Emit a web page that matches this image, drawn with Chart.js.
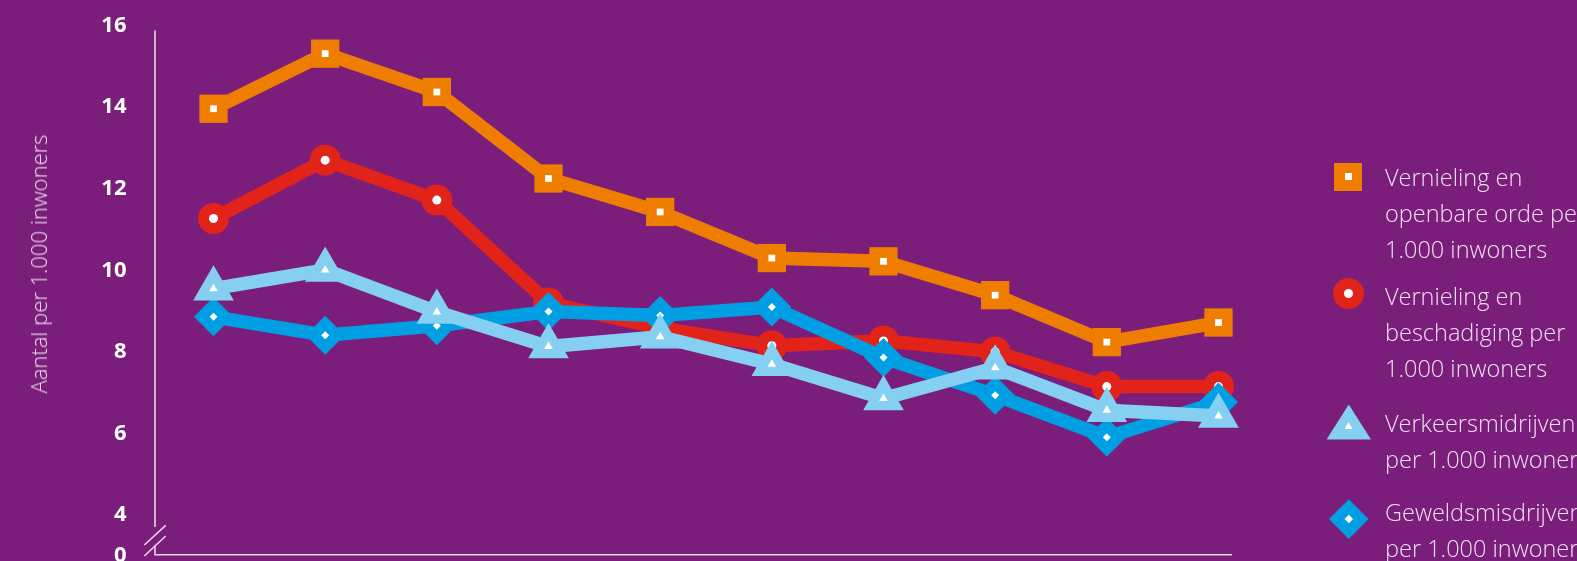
<!DOCTYPE html>
<html>
<head>
<meta charset="utf-8">
<script src="https://cdn.jsdelivr.net/npm/chart.js@4.4.0/dist/chart.umd.min.js"></script>
<style>
    html, body { margin: 0; padding: 0; background: #7b1d7a; overflow: hidden; }
    #wrap { position: relative; width: 1577px; height: 561px; overflow: hidden; }
    #chart { position: absolute; left: 0; top: 0; }
    .ytitle {
        position: absolute; left: 38px; top: 264px;
        transform: translate(-50%, -50%) rotate(-90deg);
        white-space: nowrap; font: 300 22px "Open Sans"; color: #eadbee;
    }
    .legend-text {
        position: absolute; left: 1385px; white-space: pre;
        font: 300 23.5px/36px "Open Sans"; color: #eee2f1;
    }
    .mk { position: absolute; }
    .dot { position: absolute; background: #fff; }
</style>
</head>
<body>
<div id="wrap">
    <canvas id="chart" width="1577" height="561"></canvas>
    <div class="ytitle">Aantal per 1.000 inwoners</div>
    <div id="legend"></div>
</div>
<script>
// x positions (no labels visible on the axis)
const periods = [1, 2, 3, 4, 5, 6, 7, 8, 9, 10];

const seriesNames = [
    'Vernieling en\nopenbare orde per\n1.000 inwoners',
    'Vernieling en\nbeschadiging per\n1.000 inwoners',
    'Verkeersmidrijven\nper 1.000 inwoners',
    'Geweldsmisdrijven\nper 1.000 inwoners'
];

const openbareOrde = [13.96, 15.31, 14.37, 12.25, 11.43, 10.30, 10.22, 9.39, 8.24, 8.72];
const beschadiging = [11.27, 12.70, 11.72, 9.20, 8.58, 8.15, 8.27, 8.00, 7.15, 7.15];
const verkeer      = [9.55, 10.01, 8.98, 8.13, 8.37, 7.70, 6.86, 7.61, 6.57, 6.43];
const geweld       = [8.86, 8.41, 8.64, 8.99, 8.89, 9.10, 7.86, 6.94, 5.91, 6.77];

// broken axis: the bottom value 3 is shown as 0
const yTickValues = [3, 4, 6, 8, 10, 12, 14, 16];
const yTickLabels = ['0', '4', '6', '8', '10', '12', '14', '16'];

const colors = ['#ef7d00', '#e2231a', '#85cff3', '#009fe3'];

const toPoints = arr => arr.map((v, i) => ({x: periods[i], y: v}));

function mainSet(data, color, style, radius, order) {
    return {
        data: toPoints(data),
        borderColor: color,
        borderWidth: 13.5,
        backgroundColor: color,
        pointStyle: style,
        pointRadius: radius,
        pointHoverRadius: radius,
        pointBackgroundColor: color,
        pointBorderWidth: 0,
        tension: 0,
        clip: false,
        order: order
    };
}

function whiteSet(data, style, radius, order) {
    return {
        data: toPoints(data),
        showLine: false,
        pointStyle: style,
        pointRadius: radius,
        pointHoverRadius: radius,
        pointBackgroundColor: '#ffffff',
        pointBorderWidth: 0,
        clip: false,
        order: order
    };
}

const axisLines = {
    id: 'axisLines',
    beforeDatasetsDraw(chart) {
        const {ctx, chartArea: a} = chart;
        const top = chart.scales.y.getPixelForValue(15.88);
        ctx.save();
        ctx.strokeStyle = '#ead4eb';
        ctx.lineWidth = 1.6;
        ctx.beginPath();
        ctx.moveTo(a.left, top);
        ctx.lineTo(a.left, a.bottom - 29);
        ctx.moveTo(a.left, a.bottom - 11);
        ctx.lineTo(a.left, a.bottom - 1.2);
        ctx.lineTo(a.right, a.bottom - 1.2);
        // the break marks
        ctx.moveTo(a.left - 10.7, a.bottom - 10.9);
        ctx.lineTo(a.left + 10.7, a.bottom - 30.6);
        ctx.moveTo(a.left - 10.7, a.bottom + 0.1);
        ctx.lineTo(a.left + 10.7, a.bottom - 19.9);
        ctx.stroke();
        ctx.restore();
    }
};

new Chart(document.getElementById('chart'), {
    type: 'line',
    data: {
        datasets: [
            mainSet(openbareOrde, colors[0], 'rect', 20, 8),
            whiteSet(openbareOrde, 'rect', 4.8, 7),
            mainSet(beschadiging, colors[1], 'circle', 15.5, 6),
            whiteSet(beschadiging, 'circle', 4.5, 5),
            mainSet(verkeer, colors[2], 'triangle', 23.5, 2),
            whiteSet(verkeer, 'triangle', 5, 1),
            mainSet(geweld, colors[3], 'rectRot', 19.5, 4),
            whiteSet(geweld, 'rectRot', 4, 3)
        ]
    },
    options: {
        responsive: false,
        animation: false,
        events: [],
        layout: {
            autoPadding: false,
            padding: {top: 25.5, bottom: 5.1, left: 0, right: 345}
        },
        scales: {
            x: {
                type: 'linear',
                display: false,
                min: 0.476,
                max: 10.121
            },
            y: {
                min: 3,
                max: 16,
                afterFit(scale) {
                    scale.width = 155;
                    scale.paddingTop = 0;
                    scale.paddingBottom = 0;
                },
                afterBuildTicks(scale) {
                    scale.ticks = yTickValues.map(v => ({value: v}));
                },
                ticks: {
                    padding: 28.5,
                    color: '#ffffff',
                    font: {family: 'Open Sans', size: 22, weight: 'bold'},
                    callback: value => yTickLabels[yTickValues.indexOf(value)]
                },
                grid: {display: false, drawTicks: false},
                border: {display: false}
            }
        },
        plugins: {
            legend: {display: false},
            tooltip: {enabled: false}
        }
    },
    plugins: [axisLines]
});

// legend on the right, text runs off the page like in the original
const legend = document.getElementById('legend');
const textTops = [158.7, 278, 405.3, 493.7];
seriesNames.forEach((name, i) => {
    const t = document.createElement('div');
    t.className = 'legend-text';
    t.style.top = textTops[i] + 'px';
    t.textContent = name;
    legend.appendChild(t);
});

legend.insertAdjacentHTML('beforeend', `
    <div class="mk" style="left:1334px;top:162.7px;width:28px;height:28px;background:${colors[0]}">
        <div class="dot" style="left:10.5px;top:10.5px;width:7px;height:7px"></div></div>
    <div class="mk" style="left:1332.8px;top:277.8px;width:31px;height:31px;border-radius:50%;background:${colors[1]}">
        <div class="dot" style="left:11px;top:11px;width:9px;height:9px;border-radius:50%"></div></div>
    <div class="mk" style="left:1326.5px;top:404.5px;width:44.5px;height:35px;background:${colors[2]};clip-path:polygon(50% 0,100% 100%,0 100%)"></div>
    <div class="dot" style="left:1344.5px;top:422px;width:8px;height:7px;clip-path:polygon(50% 0,100% 100%,0 100%)"></div>
    <div class="mk" style="left:1334.9px;top:504.9px;width:27.6px;height:27.6px;background:${colors[3]};transform:rotate(45deg)">
        <div class="dot" style="left:11px;top:11px;width:5.6px;height:5.6px"></div></div>
`);
</script>
</body>
</html>
